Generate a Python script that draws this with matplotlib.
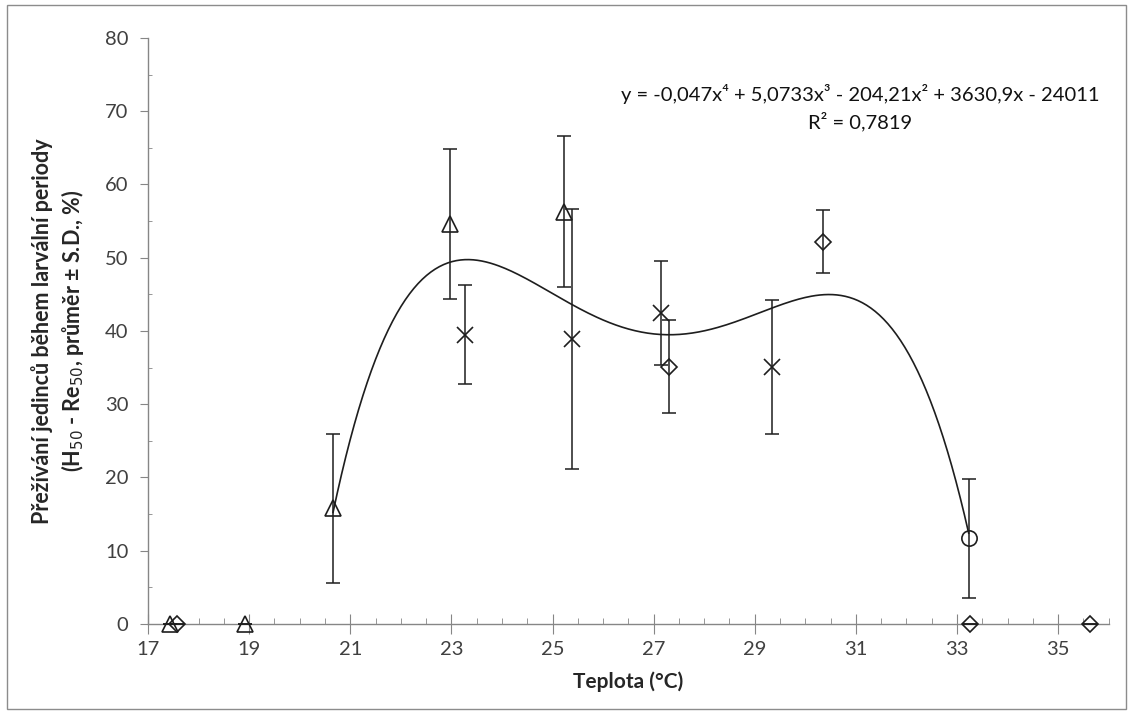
import numpy as np
import matplotlib.pyplot as plt
from matplotlib.patches import Rectangle
from matplotlib.ticker import MultipleLocator

# data
tri_x = [17.43, 18.92, 20.66, 22.97, 25.23]
tri_y = [0, 0, 15.8, 54.6, 56.3]
tri_sd = [0, 0, 10.2, 10.2, 10.3]

cross_x = [23.26, 25.39, 27.15, 29.34]
cross_y = [39.5, 38.9, 42.4, 35.1]
cross_sd = [6.8, 17.8, 7.1, 9.1]

dia_x = [17.58, 27.30, 30.34, 33.26, 35.62]
dia_y = [0, 35.1, 52.2, 0, 0]
dia_sd = [0, 6.35, 4.3, 0, 0]

circ_x = [33.23]
circ_y = [11.7]
circ_sd = [8.1]

x_ticks = [17, 19, 21, 23, 25, 27, 29, 31, 33, 35]

eq_text = "y = -0,047x⁴ + 5,0733x³ - 204,21x² + 3630,9x - 24011"
r2_text = "R² = 0,7819"

plt.rcParams['font.family'] = ['Lato', 'DejaVu Sans']

fig = plt.figure(figsize=(11.33, 7.15), dpi=100)
ax = fig.add_axes([0.1306, 0.1273, 0.848, 0.8196])

ink = '#1e1e1e'
axis_col = '#868686'

def series(x, y, sd, marker, ms):
    ax.errorbar(x, y, yerr=sd, fmt='none', ecolor=ink, elinewidth=1.1,
                capsize=5, capthick=1.1, zorder=3)
    ax.plot(x, y, linestyle='none', marker=marker, markersize=ms,
            markerfacecolor='none', markeredgecolor=ink, markeredgewidth=1.2,
            zorder=4, clip_on=False)

series(tri_x, tri_y, tri_sd, '^', 11)
series(cross_x, cross_y, cross_sd, 'x', 11)
series(dia_x, dia_y, dia_sd, 'D', 8)
series(circ_x, circ_y, circ_sd, 'o', 11)

# polynomial trendline (4th order) over the non-zero means
fx = np.array(tri_x + cross_x + dia_x + circ_x)
fy = np.array(tri_y + cross_y + dia_y + circ_y)
keep = fy > 0
coef = np.polyfit(fx[keep], fy[keep], 4)
xs = np.linspace(fx[keep].min(), fx[keep].max(), 300)
ax.plot(xs, np.polyval(coef, xs), color=ink, linewidth=1.2, zorder=2)

ax.set_xlim(17, 36)
ax.set_ylim(0, 80)
ax.set_xticks(x_ticks)
ax.xaxis.set_minor_locator(MultipleLocator(0.5))
ax.yaxis.set_major_locator(MultipleLocator(10))
ax.yaxis.set_minor_locator(MultipleLocator(5))

for s in ['top', 'right']:
    ax.spines[s].set_visible(False)
for s in ['left', 'bottom']:
    ax.spines[s].set_color(axis_col)
    ax.spines[s].set_linewidth(1.0)

ax.tick_params(axis='x', which='major', direction='inout', length=14,
               color=axis_col, labelsize=14.5, labelcolor='#404040', pad=5)
ax.tick_params(axis='x', which='minor', direction='in', length=4.5,
               color=axis_col)
ax.tick_params(axis='y', which='major', direction='out', length=6,
               color=axis_col, labelsize=14.5, labelcolor='#404040', pad=8)
ax.tick_params(axis='y', which='minor', direction='in', length=3,
               color=axis_col)

ax.set_xlabel('Teplota (°C)', fontsize=15, fontweight='bold', color='#262626',
              labelpad=10)
ax.set_ylabel('Přežívání jedinců během larvální periody\n'
              '(H$_{50}$ - Re$_{50}$, průměr ± S.D., %)',
              fontsize=15.5, fontweight='bold', color='#262626', labelpad=14,
              linespacing=1.25)

ax.text(0.741, 0.905, eq_text, transform=ax.transAxes, ha='center', va='center',
        fontsize=14.5, color='#111111')
ax.text(0.741, 0.858, r2_text, transform=ax.transAxes, ha='center', va='center',
        fontsize=14.5, color='#111111')

fig.patches.append(Rectangle((0.006, 0.008), 0.988, 0.985, transform=fig.transFigure,
                             fill=False, edgecolor='#8c8c8c', linewidth=1.0))

fig.savefig('out.png', dpi=100)
